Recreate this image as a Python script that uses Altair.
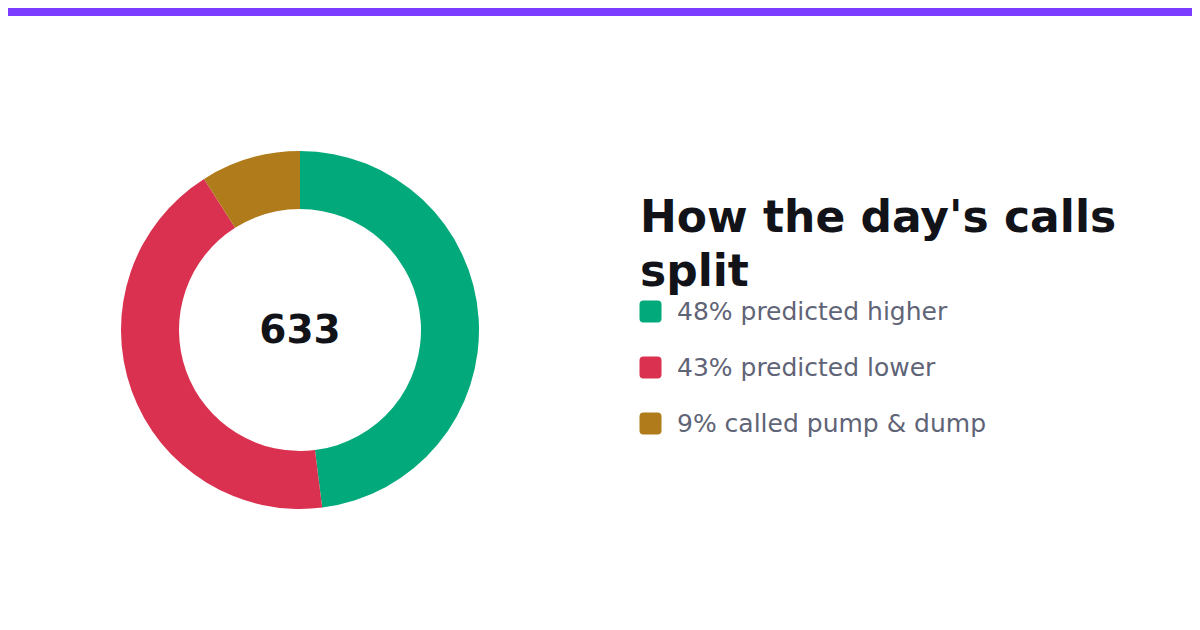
import altair as alt
import pandas as pd

labels = ["48% predicted higher", "43% predicted lower", "9% called pump & dump"]
counts = [304, 272, 57]
colors = ["#02a97a", "#d9314f", "#b07b1a"]
title_lines = ["How the day's calls", "split"]

FONT = "DejaVu Sans"
W, H = 1184, 614
CX, CY = 292, 322

# rounded square for legend swatches (unit box, scaled by sqrt(size)/2)
ROUND_SQ = ("M -1 -0.64 Q -1 -1 -0.64 -1 L 0.64 -1 Q 1 -1 1 -0.64 L 1 0.64 "
            "Q 1 1 0.64 1 L -0.64 1 Q -1 1 -1 0.64 Z")

df = pd.DataFrame({"label": labels, "count": counts, "order": range(len(labels))})

top_bar = (
    alt.Chart(pd.DataFrame({"a": [0]}))
    .mark_rect(color="#7b3cff")
    .encode(x=alt.value(0), x2=alt.value(W), y=alt.value(0), y2=alt.value(8))
)

donut = (
    alt.Chart(df)
    .mark_arc(innerRadius=121, outerRadius=179)
    .encode(
        theta=alt.Theta("count:Q", stack=True),
        order=alt.Order("order:Q"),
        color=alt.Color(
            "label:N",
            scale=alt.Scale(domain=labels, range=colors),
            legend=alt.Legend(
                title=title_lines,
                orient="none",
                legendX=632,
                legendY=189,
                titleFont=FONT,
                titleFontSize=44,
                titleFontWeight="bold",
                titleColor="#111318",
                titleLineHeight=54,
                titleLimit=700,
                titlePadding=4,
                labelFont=FONT,
                labelFontSize=25,
                labelColor="#5f6476",
                labelLimit=600,
                labelOffset=14,
                symbolType=ROUND_SQ,
                symbolSize=484,
                symbolOffset=-2,
                symbolStrokeWidth=0,
                symbolOpacity=1,
                rowPadding=30,
            ),
        ),
        x=alt.value(CX),
        y=alt.value(CY),
    )
)

center = (
    alt.Chart(df)
    .transform_aggregate(total="sum(count)")
    .mark_text(font=FONT, fontSize=39, fontWeight="bold", color="#111318", baseline="middle")
    .encode(text="total:Q", x=alt.value(CX), y=alt.value(CY + 1))
)

chart = (
    alt.layer(top_bar, donut, center)
    .properties(width=W, height=H, padding=0, autosize="none")
    .configure_view(stroke=None)
)

chart.save("out.html", embed_options={"renderer": "svg", "actions": False})
